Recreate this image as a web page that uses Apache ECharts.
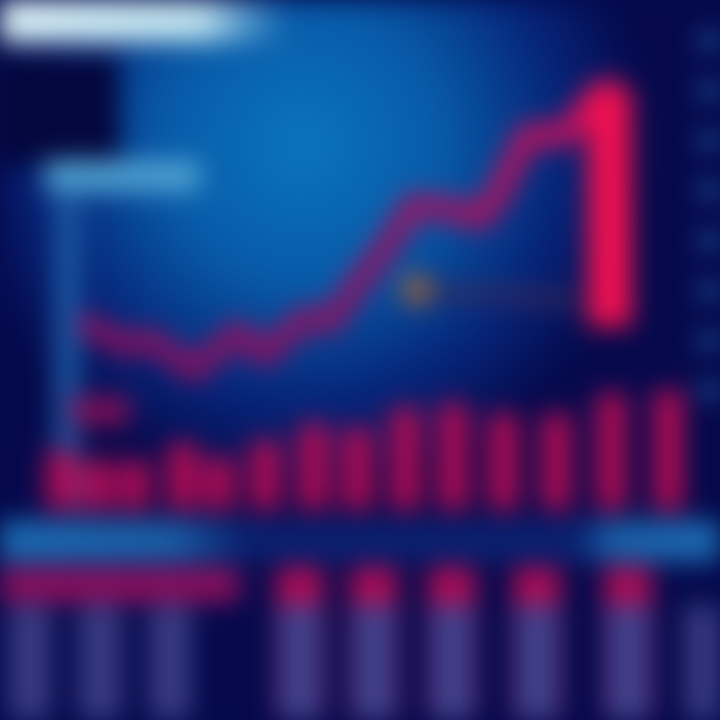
<!DOCTYPE html>
<html><head><meta charset="utf-8">
<script src="https://cdn.jsdelivr.net/npm/echarts@6/dist/echarts.min.js"></script>
<style>
html,body{margin:0;padding:0;background:#05094c;overflow:hidden}
#c{width:720px;height:720px;filter:blur(13px);}
</style></head>
<body><div id="c"></div>
<script>
// price line (day, price)
const priceDays   = [8.8, 12.5, 15, 19.5, 23.8, 26.5, 30.5, 33, 36.5, 39.5, 41.3, 45.5, 48, 49.5, 52.8, 56.5, 60, 61.2];
const priceValues = [13, 9, 10, 4, 11.6, 7, 14.4, 13.6, 23, 31, 37, 36, 34.4, 38, 51, 51, 59.6, 60];
// final crash
const dropDays   = [61, 61];
const dropValues = [60, 12.6];
// average reference line
const avgDays   = [41.7, 58];
const avgValues = [20, 18];
// volume bars
const volumeDays   = [6, 9.6, 13.3, 18.1, 21.8, 26.4, 31.2, 35.6, 40.4, 45.2, 50.2, 55.5, 61, 66.7];
const volumeValues = [60, 50, 50, 67, 53, 70, 87, 83, 103, 107, 97, 97, 117, 120];
// floating volume marker (day, low, high)
const markerDays  = [10, 10];
const markerRange = [86, 112];
// lower histogram
const histDays     = [30, 37.4, 45.2, 53.7, 62.8];
const histLow      = [115, 115, 115, 115, 115];
const histHigh     = [153, 153, 153, 153, 153];
const histPlainDays   = [3, 10, 17, 70.6];
const histPlainValues = [115, 115, 115, 115];
const bandDays  = [0, 24];
const bandLevel = [135, 135];
// right axis ticks
const priceMin = 0, priceMax = 70, priceStep = 10;

const pair = (xs, ys) => xs.map((x, i) => [x, ys[i]]);
const hidX = (grid) => ({type:'value', gridIndex:grid, min:0, max:72, show:false});

const chart = echarts.init(document.getElementById('c'), null, {renderer:'canvas'});
chart.setOption({
  animation:false,
  backgroundColor:{type:'radial', x:0.42, y:0.2, r:0.48, colorStops:[
    {offset:0, color:'#0a74bc'}, {offset:0.4, color:'#085aa8'}, {offset:0.75, color:'#062478'}, {offset:1, color:'#05094c'}]},
  graphic:[
    {type:'rect', z:0, shape:{x:0, y:0, width:290, height:42}, style:{fill:{type:'linear', x:0, y:0, x2:1, y2:0, colorStops:[{offset:0, color:'#dcf2f8'},{offset:0.7, color:'#bce2ee'},{offset:1, color:'rgba(120,190,230,0)'}]}}},
    {type:'rect', z:0, shape:{x:0, y:55, width:120, height:110}, style:{fill:'#04073e'}},
    {type:'rect', z:0, shape:{x:45, y:160, width:155, height:32}, style:{fill:'#4ea0d0'}},
    {type:'rect', z:0, shape:{x:54, y:195, width:26, height:315}, style:{fill:'#1a56a0'}},
    {type:'rect', z:0, shape:{x:0, y:520, width:720, height:42}, style:{fill:{type:'linear', x:0, y:0, x2:1, y2:0, colorStops:[
      {offset:0, color:'#1b6ab0'}, {offset:0.24, color:'#1a5ea6'}, {offset:0.34, color:'#0a2070'}, {offset:0.8, color:'#0a2070'}, {offset:0.85, color:'#1a5ea6'}, {offset:1, color:'#1b6ab0'}]}}}
  ],
  grid:[
    {left:0, right:20, top:40, height:350},
    {left:0, right:0, top:385, height:125},
    {left:0, right:0, top:520, height:200}
  ],
  xAxis:[
    {type:'value', gridIndex:0, min:0, max:70, show:false},
    hidX(1), hidX(1),
    hidX(2), hidX(2), hidX(2)
  ],
  yAxis:[
    {type:'value', gridIndex:0, min:priceMin, max:priceMax, interval:priceStep, position:'right',
      axisLine:{show:false, onZero:false}, splitLine:{show:false}, axisLabel:{show:false},
      axisTick:{show:true, length:20, lineStyle:{color:'#2e7cc4', width:11}}},
    {type:'value', gridIndex:1, min:0, max:125, show:false},
    {type:'value', gridIndex:2, min:0, max:200, show:false}
  ],
  series:[
    {type:'line', xAxisIndex:0, yAxisIndex:0, data:pair(avgDays, avgValues), showSymbol:false,
      lineStyle:{color:'#3a2a5a', width:12}, z:2,
      markPoint:{symbol:'circle', symbolSize:32, itemStyle:{color:'#94603e'}, label:{show:false}, data:[{coord:[avgDays[0], avgValues[0]]}]}},
    {type:'line', xAxisIndex:0, yAxisIndex:0, data:pair(priceDays, priceValues), showSymbol:false, z:3,
      lineStyle:{width:23, join:'round', cap:'round', color:{type:'linear', x:0, y:0, x2:1, y2:0, colorStops:[
        {offset:0, color:'#86105e'}, {offset:0.55, color:'#8e1262'}, {offset:0.8, color:'#b4105c'}, {offset:1, color:'#e4105a'}]}}},
    {type:'line', xAxisIndex:0, yAxisIndex:0, data:pair(dropDays, dropValues), showSymbol:false, z:4,
      lineStyle:{width:44, cap:'butt', color:'#f01050'}},
    {type:'bar', xAxisIndex:1, yAxisIndex:1, data:pair(volumeDays, volumeValues), barWidth:30, z:3,
      itemStyle:{color:{type:'linear', x:0, y:0, x2:1, y2:0, colorStops:[
        {offset:0, color:'#900e58'}, {offset:0.5, color:'#ac0c54'}, {offset:1, color:'#e60a4c'}]}}},
    {type:'line', xAxisIndex:2, yAxisIndex:1, data:pair(markerDays, markerRange), showSymbol:false, z:3,
      lineStyle:{width:60, cap:'butt', color:'#8a0e56'}},
    {type:'line', xAxisIndex:3, yAxisIndex:2, data:pair(bandDays, bandLevel), showSymbol:false, z:1,
      lineStyle:{width:34, cap:'butt', color:'#8c0e5c'}},
    {type:'bar', xAxisIndex:4, yAxisIndex:2, data:pair(histDays, histHigh), barWidth:48, itemStyle:{color:'#ac0c54'}, z:2},
    {type:'bar', xAxisIndex:5, yAxisIndex:2, data:pair(histDays, histLow), barWidth:42, itemStyle:{color:'#3e428c'}, z:3},
    {type:'bar', xAxisIndex:3, yAxisIndex:2, data:pair(histPlainDays, histPlainValues), barWidth:42, itemStyle:{color:'#383b82'}, z:3}
  ]
});
</script>
</body></html>
